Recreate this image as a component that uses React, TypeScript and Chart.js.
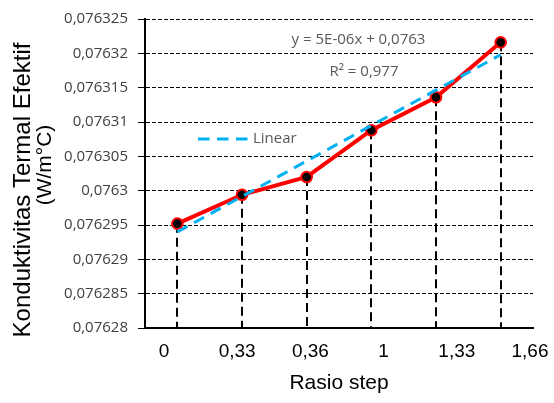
import React, { useEffect, useRef } from 'react';
import { Chart, registerables } from 'chart.js';

Chart.register(...registerables);

// ---- data ----
const X_LABELS = ['0', '0,33', '0,36', '1', '1,33', '1,66'];
const CONDUCTIVITY = [0.0762952, 0.0762994, 0.076302, 0.0763088, 0.0763136, 0.0763216];
const TREND = [0.076294, null, null, null, null, 0.0763198];
const Y_TICKS = [0.07628, 0.076285, 0.07629, 0.076295, 0.0763, 0.076305, 0.07631, 0.076315, 0.07632, 0.076325];
const Y_TITLE = ['Konduktivitas Termal Efektif', '(W/m°C)'];
const X_TITLE = 'Rasio step';
const TREND_LABEL = 'Linear';
const EQUATION = 'y = 5E-06x + 0,0763';
const R_SQUARED = 'R² = 0,977';

const TREND_COLOR = '#00b0f0';
const SERIES_COLOR = '#ff0000';

const decorations = {
  id: 'decorations',
  beforeDatasetsDraw(chart: any) {
    const { ctx, chartArea } = chart;
    const meta = chart.getDatasetMeta(1);
    ctx.save();
    ctx.strokeStyle = '#000';
    ctx.lineWidth = 2;
    ctx.setLineDash([9, 5]);
    meta.data.forEach((pt: any) => {
      const x = Math.round(pt.x);
      ctx.beginPath();
      ctx.moveTo(x, pt.y);
      ctx.lineTo(x, chartArea.bottom);
      ctx.stroke();
    });
    ctx.restore();
  },
  afterDraw(chart: any) {
    const { ctx } = chart;
    ctx.save();
    // legend entry for trendline
    ctx.strokeStyle = TREND_COLOR;
    ctx.lineWidth = 3;
    ctx.setLineDash([11.5, 7.5]);
    ctx.beginPath();
    ctx.moveTo(198, 139);
    ctx.lineTo(248, 139);
    ctx.stroke();
    ctx.setLineDash([]);
    ctx.fillStyle = '#595959';
    ctx.font = '15px "Open Sans"';
    ctx.textBaseline = 'middle';
    ctx.textAlign = 'left';
    ctx.fillText(TREND_LABEL, 253, 139);
    // equation
    ctx.textAlign = 'center';
    ctx.fillText(EQUATION, 358.5, 40);
    ctx.fillText(R_SQUARED, 364, 72);
    // y title
    ctx.fillStyle = '#000';
    ctx.save();
    ctx.translate(23.4, 190);
    ctx.rotate(-Math.PI / 2);
    ctx.font = '24px "Liberation Sans"';
    ctx.fillText(Y_TITLE[0], 0, 0);
    ctx.restore();
    ctx.save();
    ctx.translate(45, 165);
    ctx.rotate(-Math.PI / 2);
    ctx.font = '21px "Liberation Sans"';
    ctx.fillText(Y_TITLE[1], 0, 0);
    ctx.restore();
    ctx.restore();
  },
};

export default function App() {
  const ref = useRef<HTMLCanvasElement | null>(null);

  useEffect(() => {
    if (!ref.current) return;
    Chart.defaults.font.family = '"Liberation Sans"';
    const chart = new Chart(ref.current, {
      type: 'line',
      data: {
        labels: X_LABELS,
        datasets: [
          {
            label: TREND_LABEL,
            data: TREND,
            xAxisID: 'x',
            yAxisID: 'y',
            borderColor: TREND_COLOR,
            borderWidth: 3,
            borderDash: [11.5, 7.5],
            pointRadius: 0,
            spanGaps: true,
            fill: false,
            order: 0,
          },
          {
            label: 'Konduktivitas',
            data: CONDUCTIVITY,
            xAxisID: 'x',
            yAxisID: 'y',
            borderColor: SERIES_COLOR,
            borderWidth: 4,
            pointRadius: 5.3,
            pointBorderWidth: 2,
            pointBackgroundColor: '#000',
            pointBorderColor: SERIES_COLOR,
            fill: false,
            tension: 0,
            order: 1,
          },
        ],
      },
      options: {
        animation: false,
        responsive: true,
        maintainAspectRatio: false,
        devicePixelRatio: 1,
        layout: { padding: { top: 18.5, right: 21, bottom: 0, left: 0 } },
        plugins: {
          legend: { display: false },
          tooltip: { enabled: false },
        },
        scales: {
          x: {
            type: 'category',
            offset: true,
            display: false,
          },
          x2: {
            type: 'linear',
            position: 'bottom',
            min: -0.2596,
            max: 5.041,
            afterBuildTicks: (s: any) => {
              s.ticks = X_LABELS.map((_, i) => ({ value: i }));
            },
            afterFit: (s: any) => {
              s.height = 75;
              s.paddingLeft = 0;
              s.paddingRight = 0;
            },
            ticks: {
              autoSkip: false,
              maxRotation: 0,
              minRotation: 0,
              padding: 12,
              color: '#000',
              font: { family: '"Liberation Sans"', size: 19 },
              callback: (_v: any, i: number) => X_LABELS[i] ?? '',
            },
            grid: { display: false, drawTicks: false },
            border: { display: true, color: '#000', width: 2 },
            title: {
              display: true,
              text: X_TITLE,
              color: '#000',
              font: { family: '"Liberation Sans"', size: 21 },
              padding: { top: 0, bottom: 7.4 },
            },
          },
          y: {
            type: 'linear',
            position: 'left',
            min: Y_TICKS[0],
            max: Y_TICKS[Y_TICKS.length - 1],
            afterBuildTicks: (s: any) => {
              s.ticks = Y_TICKS.map((v) => ({ value: v }));
            },
            afterFit: (s: any) => {
              s.width = 145;
            },
            ticks: {
              padding: 10,
              color: '#404040',
              font: { family: '"Open Sans"', size: 15 },
              callback: (v: any) => String(v).replace('.', ','),
            },
            grid: {
              color: '#000',
              lineWidth: 1,
              drawTicks: true,
              tickLength: 7,
              tickColor: '#000',
              tickWidth: 1,
            },
            border: { display: true, color: '#000', width: 2, dash: [4, 2] },
          },
        },
      },
      plugins: [decorations],
    } as any);
    return () => chart.destroy();
  }, []);

  return (
    <div style={{ position: 'fixed', left: 0, top: 0, width: 554, height: 403, background: '#fff' }}>
      <canvas ref={ref} />
    </div>
  );
}
